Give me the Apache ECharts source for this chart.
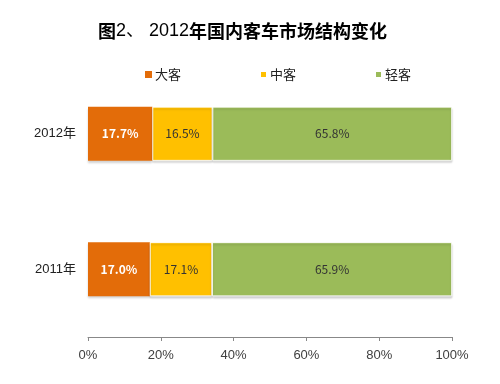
<!DOCTYPE html>
<html><head><meta charset="utf-8">
<script src="https://cdn.jsdelivr.net/npm/echarts@6/dist/echarts.min.js"></script>
<style>html,body{margin:0;padding:0;background:#fff}#c{width:500px;height:384px}</style>
</head><body><div id="c"></div>
<script>
const categories = ['2011年', '2012年'];
const seriesNames = ['大客', '中客', '轻客'];
const large = [17.0, 17.7];
const medium = [17.1, 16.5];
const light = [65.9, 65.8];
const xTicks = [0, 20, 40, 60, 80, 100];

const colors = ['#E36C09', '#FFC000', '#9BBB59'];
const values = [large, medium, light];
const font = '"Noto Sans CJK SC", "Noto Sans", sans-serif';
const latin = '"Liberation Sans", "Noto Sans CJK SC", sans-serif';

const chart = echarts.init(document.getElementById('c'));
chart.setOption({
  animation: false,
  title: {
    text: '{b|图}{n|2、 2012}{b|年国内客车市场结构变化}',
    left: 93, top: 17,
    textStyle: {
      rich: {
        b: { fontFamily: font, fontSize: 18, fontWeight: 'bold', color: '#000' },
        n: { fontFamily: latin, fontSize: 18, fontWeight: 'normal', color: '#000' }
      }
    }
  },
  legend: {
    top: 63, left: 140,
    itemWidth: 7, itemHeight: 7, itemGap: 78,
    icon: 'rect',
    textStyle: { fontFamily: font, fontSize: 13, color: '#222', padding: [0, 0, 0, -2] },
    data: seriesNames
  },
  grid: { left: 88, right: 48, top: 66, bottom: 47, containLabel: false },
  xAxis: {
    type: 'value', min: xTicks[0], max: xTicks[xTicks.length - 1], interval: 20,
    axisLine: { show: true, lineStyle: { color: '#888' } },
    axisTick: { show: true, length: 4, lineStyle: { color: '#888' } },
    splitLine: { show: false },
    axisLabel: { formatter: '{value}%', fontFamily: latin, fontSize: 13, color: '#404040', margin: 12 }
  },
  yAxis: {
    type: 'category', data: categories,
    axisLine: { show: false }, axisTick: { show: false },
    axisLabel: { fontFamily: latin, fontSize: 13, color: '#222', margin: 12 }
  },
  series: seriesNames.map((name, i) => ({
    name, type: 'bar', stack: 'all', barWidth: 54,
    data: values[i],
    itemStyle: {
      color: colors[i], borderColor: '#fff', borderWidth: i === 0 ? 0 : 0.8,
      shadowColor: 'rgba(0,0,0,0.18)', shadowBlur: 2, shadowOffsetY: 2
    },
    label: {
      show: true, position: 'inside',
      formatter: p => p.value.toFixed(1) + '%',
      fontFamily: font, fontSize: 12,
      color: i === 0 ? '#fff' : '#333',
      fontWeight: i === 0 ? 'bold' : 'normal'
    }
  }))
});
</script></body></html>
